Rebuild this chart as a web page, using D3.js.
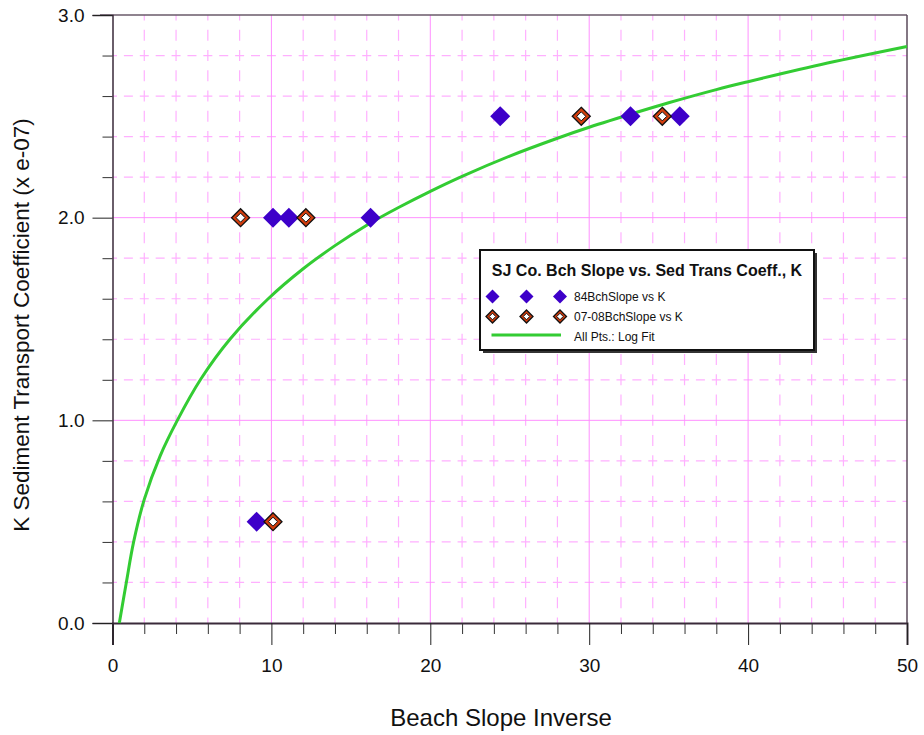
<!DOCTYPE html>
<html><head><meta charset="utf-8">
<script src="https://cdn.jsdelivr.net/npm/d3@7"></script>
<style>body{margin:0;background:#fff}svg{display:block;font-family:"Liberation Sans",Arial,sans-serif}</style>
</head><body>
<svg id="c" width="924" height="735"></svg>
<script>
// Series 1: 84BchSlope vs K
const s84X = [9.07, 10.1, 11.1, 16.24, 24.4, 32.6, 35.7];
const s84Y = [0.5, 2.0, 2.0, 2.0, 2.5, 2.5, 2.5];
// Series 2: 07-08BchSlope vs K
const s07X = [8.06, 12.17, 10.1, 29.5, 34.6];
const s07Y = [2.0, 2.0, 0.5, 2.5, 2.5];
// Log fit curve
const fitX = [0.43, 0.87, 1.33, 2.0, 3.0, 4.08, 5.57, 7.39, 9.8, 12, 14, 16, 18, 20, 22, 25, 28, 30, 33, 35, 38, 40, 45, 50];
const fitY = [0, 0.2, 0.4, 0.61, 0.825, 1.0, 1.205, 1.4, 1.6, 1.748, 1.862, 1.963, 2.05, 2.13, 2.204, 2.304, 2.392, 2.446, 2.52, 2.567, 2.632, 2.671, 2.763, 2.845];
const xTicks = [0, 10, 20, 30, 40, 50];
const yTicks = [0, 1, 2, 3];
const xTickLabels = ["0", "10", "20", "30", "40", "50"];
const yTickLabels = ["0.0", "1.0", "2.0", "3.0"];
const legendTitle = "SJ Co. Bch Slope vs. Sed Trans Coeff., K";
const legendLabels = ["84BchSlope vs K", "07-08BchSlope vs K", "All Pts.: Log Fit"];
const xTitle = "Beach Slope Inverse";
const yTitle = "K Sediment Transport Coefficient (x e-07)";

const svg = d3.select("#c");
const x = d3.scaleLinear().domain([0, 50]).range([112.5, 907]);
const y = d3.scaleLinear().domain([0, 3]).range([623, 15]);
const blue = "#3d00c9", orange = "#d23c0c", green = "#33cc33";
const gMaj = "#ff90ff", gMin = "#ffb0ff";

// grid
const minorX = d3.range(2, 50, 2).filter(v => v % 10 !== 0);
const majorX = [10, 20, 30, 40];
const minorY = d3.range(1, 15).map(i => i * 0.2).filter(v => Math.abs(v - Math.round(v)) > 1e-6);
const majorY = [1, 2];
const grid = svg.append("g");
const unitX = x(1) - x(0), stepY = (y(0) - y(0.1));
grid.selectAll(".vmin").data(minorX).join("line")
  .attr("x1", d => x(d)).attr("x2", d => x(d)).attr("y1", y(0)).attr("y2", y(3))
  .attr("stroke", gMin).attr("stroke-width", 1.2)
  .attr("stroke-dasharray", `11,${(stepY - 11).toFixed(2)}`).attr("stroke-dashoffset", 5.5);
grid.selectAll(".hmin").data(minorY).join("line")
  .attr("x1", x(0)).attr("x2", x(50)).attr("y1", d => y(d)).attr("y2", d => y(d))
  .attr("stroke", gMin).attr("stroke-width", 1.2)
  .attr("stroke-dasharray", `9,${(unitX - 9).toFixed(2)}`).attr("stroke-dashoffset", 4.5);
grid.selectAll(".vmaj").data(majorX).join("line")
  .attr("x1", d => x(d)).attr("x2", d => x(d)).attr("y1", y(0)).attr("y2", y(3))
  .attr("stroke", gMaj).attr("stroke-width", 1);
grid.selectAll(".hmaj").data(majorY).join("line")
  .attr("x1", x(0)).attr("x2", x(50)).attr("y1", d => y(d)).attr("y2", d => y(d))
  .attr("stroke", gMaj).attr("stroke-width", 1);

// frame
svg.append("line").attr("x1", 100).attr("x2", x(50)).attr("y1", y(3)).attr("y2", y(3)).attr("stroke", "#6a5a6a").attr("stroke-width", 1.5);
svg.append("line").attr("x1", x(50)).attr("x2", x(50)).attr("y1", y(3)).attr("y2", y(0)).attr("stroke", "#5a4a5a").attr("stroke-width", 1.5);

// axes
const xAxis = d3.axisBottom(x).tickValues(xTicks).tickFormat((d, i) => xTickLabels[i]).tickSize(22).tickPadding(14);
const gx = svg.append("g").attr("transform", `translate(0,${y(0)})`).call(xAxis);
gx.select(".domain").attr("stroke", "#3a2a3a").attr("stroke-width", 2);
gx.selectAll(".tick line").attr("stroke", "#222");
gx.selectAll("text").attr("font-size", 19).attr("fill", "#111").attr("font-family", "Liberation Sans, Arial, sans-serif");
svg.append("g").attr("transform", `translate(0,${y(0)})`)
  .call(d3.axisBottom(x).tickValues(minorX).tickFormat("").tickSize(11))
  .call(g => g.select(".domain").remove())
  .selectAll("line").attr("stroke", "#333");

const yAxis = d3.axisLeft(y).tickValues(yTicks).tickFormat((d, i) => yTickLabels[i]).tickSize(20).tickPadding(8);
const gy = svg.append("g").attr("transform", `translate(${x(0)},0)`).call(yAxis);
gy.select(".domain").attr("stroke", "#3a2a3a").attr("stroke-width", 1.5);
gy.selectAll(".tick line").attr("stroke", "#222");
gy.selectAll("text").attr("font-size", 19).attr("fill", "#111").attr("font-family", "Liberation Sans, Arial, sans-serif");
svg.append("g").attr("transform", `translate(${x(0)},0)`)
  .call(d3.axisLeft(y).tickValues(minorY).tickFormat("").tickSize(10))
  .call(g => g.select(".domain").remove())
  .selectAll("line").attr("stroke", "#333");

// titles
svg.append("text").attr("x", 501).attr("y", 726).attr("text-anchor", "middle")
  .attr("font-size", 24).attr("fill", "#111").text(xTitle);
svg.append("text").attr("transform", `translate(29,${325}) rotate(-90)`).attr("text-anchor", "middle")
  .attr("font-size", 22.5).attr("fill", "#111").text(yTitle);

// fit curve
const fitData = fitX.map((v, i) => [v, fitY[i]]);
svg.append("path").datum(fitData)
  .attr("d", d3.line().x(d => x(d[0])).y(d => y(d[1])).curve(d3.curveCatmullRom.alpha(0.5)))
  .attr("fill", "none").attr("stroke", green).attr("stroke-width", 3);

// markers
function blueDiamond(g, cx, cy, r) {
  g.append("path").attr("d", `M${cx},${cy - r}L${cx + r},${cy}L${cx},${cy + r}L${cx - r},${cy}Z`)
    .attr("fill", blue);
}
function orangeDiamond(g, cx, cy, r) {
  g.append("path").attr("d", `M${cx},${cy - r}L${cx + r},${cy}L${cx},${cy + r}L${cx - r},${cy}Z`)
    .attr("fill", orange).attr("stroke", "#111").attr("stroke-width", 1.3);
  const ri = r * 0.5;
  g.append("path").attr("d", `M${cx},${cy - ri}L${cx + ri},${cy}L${cx},${cy + ri}L${cx - ri},${cy}Z`)
    .attr("fill", "#fff").attr("stroke", "#111").attr("stroke-width", 1);
}
const pts = svg.append("g");
s84X.forEach((v, i) => blueDiamond(pts, x(v), y(s84Y[i]), 10));
s07X.forEach((v, i) => orangeDiamond(pts, x(v), y(s07Y[i]), 9));

// legend
const lg = svg.append("g");
lg.append("rect").attr("x", 483).attr("y", 253).attr("width", 334).attr("height", 100).attr("fill", "#333");
lg.append("rect").attr("x", 480).attr("y", 250).attr("width", 334).attr("height", 100)
  .attr("fill", "#fff").attr("stroke", "#111").attr("stroke-width", 2);
lg.append("text").attr("x", 647).attr("y", 276).attr("text-anchor", "middle")
  .attr("font-size", 16).attr("font-weight", "bold").attr("fill", "#111").text(legendTitle);
const rows = [296.5, 316.5, 336];
[492.5, 526.5, 560].forEach(cx => blueDiamond(lg, cx, rows[0], 7));
[492.5, 526.5, 560].forEach(cx => orangeDiamond(lg, cx, rows[1], 6.5));
lg.append("line").attr("x1", 491.5).attr("x2", 561).attr("y1", rows[2] - 1).attr("y2", rows[2] - 1)
  .attr("stroke", green).attr("stroke-width", 3);
legendLabels.forEach((t, i) => lg.append("text").attr("x", 574).attr("y", rows[i] + 4.5)
  .attr("font-size", 12).attr("fill", "#111").text(t));
</script>
</body></html>
